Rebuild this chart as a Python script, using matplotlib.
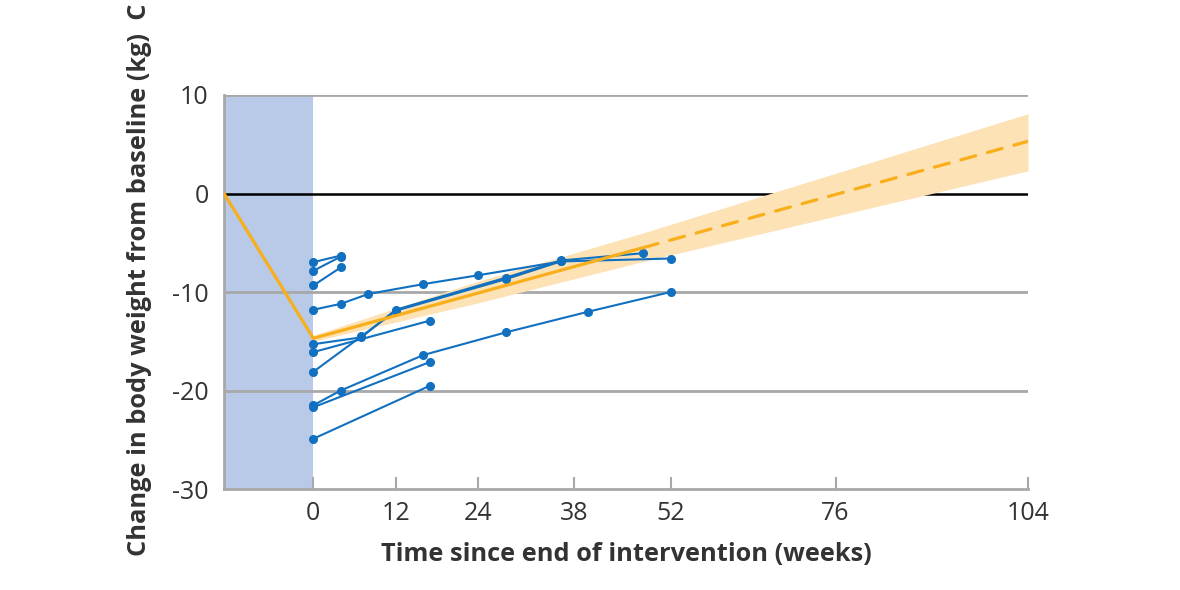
import numpy as np
import matplotlib.pyplot as plt

plt.rcParams["font.family"] = ["Open Sans", "DejaVu Sans"]
plt.rcParams["axes.unicode_minus"] = False

# Duomenys (nuskaityta nuo paveikslo)
x_ticks = [0, 12, 24, 38, 52, 76, 104]
y_ticks = [-30, -20, -10, 0, 10]

# Pavienių tyrimų kreivės: savaitės ir svorio pokytis (kg)
trial_weeks = [
    [0, 4],
    [0, 4],
    [0, 4],
    [0, 4, 8, 16, 24, 36],
    [0, 7, 12, 28, 36, 52],
    [0, 7, 12, 28, 36, 48],
    [0, 17],
    [0, 4, 16, 28, 40, 52],
    [0, 17],
    [0, 17],
]
trial_values = [
    [-6.97, -6.3],
    [-7.85, -6.4],
    [-9.34, -7.5],
    [-11.8, -11.2, -10.2, -9.2, -8.3, -6.9],
    [-18.1, -14.5, -11.9, -8.7, -6.9, -6.6],
    [-15.3, -14.6, -11.8, -8.55, -6.8, -6.06],
    [-16.1, -12.9],
    [-21.5, -20.0, -16.4, -14.1, -12.0, -10.0],
    [-21.7, -17.1],
    [-24.9, -19.5],
]

# Intervencijos laikotarpis ir modelio linija
intervention_weeks = [-13, 0]
intervention_values = [0, -14.7]
fit_weeks = [0, 48]
fit_values = [-14.7, -5.5]
proj_weeks = [48, 104]
proj_values = [-5.5, 5.3]
ci_weeks = [0, 24, 48, 104]
ci_upper = [-14.4, -8.9, -4.0, 8.1]
ci_lower = [-15.0, -11.1, -6.9, 2.3]

blue = "#1170BF"
orange = "#F9AE1B"
grey = "#A8A8A8"
text_col = "#333333"

fig = plt.figure(figsize=(11.8, 5.9), dpi=100)
ax = fig.add_axes([224 / 1180, 1 - 489 / 590, (1028 - 224) / 1180, (489 - 95) / 590])

ax.axvspan(-13, 0, color="#B8CAE7", lw=0, zorder=0)

for yv in [10, -10, -20]:
    ax.axhline(yv, color=grey, lw=2, zorder=1)
ax.axhline(0, color="black", lw=1.8, zorder=1)

ax.fill_between(ci_weeks, ci_lower, ci_upper, color="#FDE2B6", lw=0, zorder=2)

for w, v in zip(trial_weeks, trial_values):
    ax.plot(w, v, "-o", color=blue, lw=1.5, ms=5.5, zorder=3)

ax.plot(intervention_weeks, intervention_values, color=orange, lw=2.3, zorder=4,
        solid_capstyle="round")
ax.plot(fit_weeks, fit_values, color=orange, lw=2.3, zorder=4, solid_capstyle="round")
ax.plot(proj_weeks, proj_values, color=orange, lw=2.3, zorder=4,
        dashes=(4.8, 3.8), dash_capstyle="round")

ax.set_xlim(-13, 104)
ax.set_ylim(-30, 10)
ax.set_xticks(x_ticks)
ax.set_yticks(y_ticks)

for side in ["top", "right"]:
    ax.spines[side].set_visible(False)
for side in ["left", "bottom"]:
    ax.spines[side].set_color(grey)
    ax.spines[side].set_linewidth(2)

ax.tick_params(axis="x", direction="in", length=9, width=1.5, color=grey,
               labelsize=18, labelcolor=text_col, pad=9)
ax.tick_params(axis="y", length=0, labelsize=18, labelcolor=text_col, pad=11)

ax.set_xlabel("Time since end of intervention (weeks)", fontsize=18.3,
              fontweight="bold", color=text_col, labelpad=11)
fig.text(140 / 1180, 1 - 556 / 590, "Change in body weight from baseline (kg)  C",
         rotation=90, ha="center", va="bottom", fontsize=18.3, fontweight="bold",
         color=text_col)

plt.savefig("out.png", dpi=100)
plt.close()
